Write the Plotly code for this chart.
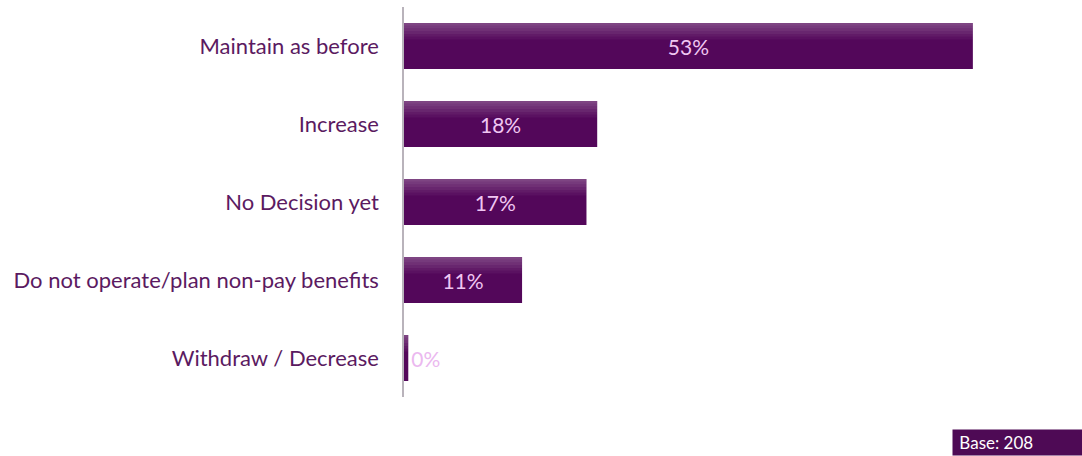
import plotly.graph_objects as go

# Survey responses: plans for non-pay benefits
categories = [
    "Maintain as before",
    "Increase",
    "No Decision yet",
    "Do not operate/plan non-pay benefits",
    "Withdraw / Decrease",
]
shares = [53, 18, 17, 11, 0.4]
base_note = "Base: 208"

BAR = "#53075a"
LABEL_PINK = "#f0c6f2"
TEXT_PURPLE = "#5b1a61"
FONT = "Lato, Open Sans, sans-serif"

BAR_W = 0.59

fig = go.Figure()

fig.add_trace(go.Bar(
    y=categories,
    x=shares,
    orientation="h",
    width=BAR_W,
    marker=dict(color=BAR, line=dict(width=0)),
    texttemplate="%{x:.0f}%",
    textposition=["inside", "inside", "inside", "inside", "outside"],
    insidetextanchor="middle",
    insidetextfont=dict(color=LABEL_PINK, size=21, family=FONT),
    outsidetextfont=dict(color="#ebb8ef", size=21, family=FONT),
    textangle=0,
    constraintext="none",
    cliponaxis=False,
    hoverinfo="skip",
))

# Soft highlight along the top edge of each bar (fades downward)
strips = 6
top_band = BAR_W * 0.36
for i in range(strips):
    w = top_band / strips
    off = BAR_W / 2 - (i + 1) * w
    # horizontal bars: offset is measured along the category axis
    fig.add_trace(go.Bar(
        y=categories,
        x=shares,
        orientation="h",
        width=w,
        offset=-off - w,
        marker=dict(color="rgba(255,255,255,%.3f)" % (0.25 * (1 - i / strips)), line=dict(width=0)),
        hoverinfo="skip",
        showlegend=False,
    ))

fig.update_layout(
    width=1082,
    height=456,
    margin=dict(l=404, r=34, t=7, b=59),
    paper_bgcolor="white",
    plot_bgcolor="white",
    barmode="overlay",
    showlegend=False,
    font=dict(family=FONT, color=TEXT_PURPLE),
    xaxis=dict(
        range=[0, 60],
        visible=False,
        fixedrange=True,
    ),
    yaxis=dict(
        autorange="reversed",
        showline=True,
        linecolor="#b9b3bb",
        linewidth=1.5,
        showgrid=False,
        zeroline=False,
        ticks="outside",
        ticklen=19,
        tickcolor="rgba(0,0,0,0)",
        tickfont=dict(size=22, color=TEXT_PURPLE, family=FONT),
        fixedrange=True,
    ),
    annotations=[dict(
        text="&nbsp;" + base_note,
        xref="paper", yref="paper",
        x=1.0 + 34 / 644, y=-59 / 390,
        xanchor="right", yanchor="bottom",
        xshift=3,
        showarrow=False,
        bgcolor="#4e0a55",
        font=dict(color="white", size=17, family=FONT),
        borderpad=2,
        width=127,
        align="left",
    )],
)

fig.write_html("out.html")
